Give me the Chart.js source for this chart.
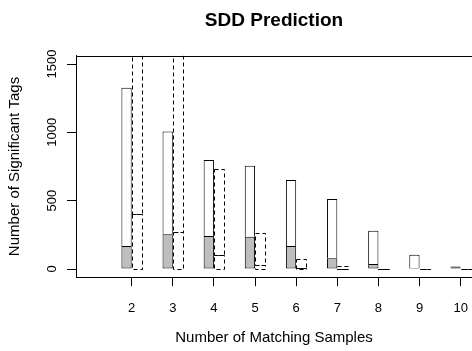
<!DOCTYPE html>
<html lang="en">
<head>
<meta charset="UTF-8">
<title>SDD Prediction</title>
<script src="https://cdn.jsdelivr.net/npm/chart.js@4.4.0/dist/chart.umd.min.js"></script>
<style>
  body { margin: 0; background: #fff; overflow: hidden; }
</style>
</head>
<body>
<canvas id="myChart" width="472" height="351"></canvas>
<script>
// number of matching samples
var categories = ['2', '3', '4', '5', '6', '7', '8', '9', '10'];
// solid bars: total height and grey part
var sigTags    = [1326, 1007, 798, 756, 651, 512, 280, 105, 18];
var sigShared  = [168, 254, 241, 236, 168, 78, 37, 8, 12];
// dashed bars: total height and lower part (2 and 3 run off the top)
var predTags   = [1900, 1700, 732, 266, 71, 24, 3, 2, 2];
var predShared = [402, 273, 102, 29, 8, 3, 1, 1, 1];
var yTicks = [0, 500, 1000, 1500];
var chartTitle = 'SDD Prediction';

var FONT = 'Liberation Sans, Arial, Helvetica, sans-serif';

function diff(a, b) { return a.map((v, i) => v - b[i]); }

// chart.js bars have no dashed border, so stroke the "pred" stack by hand
var dashedBars = {
  id: 'dashedBars',
  afterDatasetsDraw(chart) {
    const ctx = chart.ctx, area = chart.chartArea;
    ctx.save();
    ctx.beginPath();
    ctx.rect(area.left, area.top, area.right - area.left, area.bottom - area.top);
    ctx.clip();
    ctx.strokeStyle = '#000';
    ctx.lineWidth = 1;
    ctx.setLineDash([4, 3]);
    chart.data.datasets.forEach((ds, di) => {
      if (ds.stack !== 'pred') return;
      chart.getDatasetMeta(di).data.forEach(el => {
        const x0 = Math.round(el.x - el.width / 2) + 0.5;
        const x1 = Math.round(el.x + el.width / 2) + 0.5;
        const y0 = Math.round(el.y) + 0.5;
        const y1 = Math.round(el.base) + 0.5;
        ctx.strokeRect(x0, y0, x1 - x0, y1 - y0);
      });
    });
    ctx.restore();
  }
};

// box top line, title over the plot region, rotated y tick labels (R style)
var rDecor = {
  id: 'rDecor',
  afterDraw(chart) {
    const ctx = chart.ctx, area = chart.chartArea, ys = chart.scales.y;
    ctx.save();
    ctx.strokeStyle = '#000';
    ctx.lineWidth = 1;
    ctx.beginPath();
    ctx.moveTo(area.left, Math.round(area.top) + 0.5);
    ctx.lineTo(area.right, Math.round(area.top) + 0.5);
    ctx.stroke();

    ctx.fillStyle = '#000';
    ctx.textAlign = 'center';
    ctx.textBaseline = 'middle';
    ctx.font = 'bold 19px ' + FONT;
    ctx.fillText(chartTitle, (area.left + area.right) / 2, 21);

    ctx.font = '13px ' + FONT;
    ctx.textBaseline = 'alphabetic';
    yTicks.forEach(v => {
      ctx.save();
      ctx.translate(area.left - 20, ys.getPixelForValue(v));
      ctx.rotate(-Math.PI / 2);
      ctx.fillText(String(v), 0, 0);
      ctx.restore();
    });
    ctx.restore();
  }
};

var ctx = document.getElementById('myChart');
var myChart = new Chart(ctx.getContext('2d'), {
  type: 'bar',
  data: {
    labels: categories,
    datasets: [
      { stack: 'obs', data: sigShared, backgroundColor: '#bebebe', borderColor: '#000', borderWidth: 1, borderSkipped: false },
      { stack: 'obs', data: diff(sigTags, sigShared), backgroundColor: '#fff', borderColor: '#000', borderWidth: 1, borderSkipped: 'start' },
      { stack: 'pred', data: predShared, backgroundColor: 'rgba(0,0,0,0)', borderWidth: 0 },
      { stack: 'pred', data: diff(predTags, predShared), backgroundColor: 'rgba(0,0,0,0)', borderWidth: 0 }
    ]
  },
  options: {
    responsive: false,
    animation: false,
    categoryPercentage: 0.5,
    barPercentage: 1.0,
    layout: { padding: { top: 55.8, left: 0, right: 0, bottom: 0 } },
    plugins: {
      legend: { display: false },
      tooltip: { enabled: false },
      title: { display: false }
    },
    scales: {
      x: {
        type: 'linear',
        stacked: true,
        offset: false,
        min: 0.646,
        max: 10.275,
        afterBuildTicks: s => { s.ticks = categories.map(c => ({ value: Number(c) })); },
        afterFit: s => { s.height = 73.8; s.paddingLeft = 0; s.paddingRight = 0; },
        ticks: {
          color: '#000',
          padding: 14,
          maxRotation: 0,
          autoSkip: false,
          font: { family: FONT, size: 13 },
          callback: v => String(v)
        },
        grid: { drawOnChartArea: false, drawTicks: true, tickLength: 9, tickColor: '#000', offset: false },
        border: { display: true, color: '#000', width: 1 },
        title: {
          display: true,
          text: 'Number of Matching Samples',
          color: '#000',
          font: { family: FONT, size: 15 },
          padding: { top: 0, bottom: 4 }
        }
      },
      y: {
        stacked: true,
        min: -60,
        max: 1560,
        afterBuildTicks: s => { s.ticks = yTicks.map(v => ({ value: v })); },
        afterFit: s => { s.width = 76; s.paddingTop = 0; s.paddingBottom = 0; },
        ticks: { display: false },
        grid: { drawOnChartArea: false, drawTicks: true, tickLength: 9, tickColor: '#000' },
        border: { display: true, color: '#000', width: 1 },
        title: {
          display: true,
          text: 'Number of Significant Tags',
          color: '#000',
          font: { family: FONT, size: 15 },
          padding: { top: 6, bottom: 0 }
        }
      }
    }
  },
  plugins: [dashedBars, rDecor]
});
</script>
</body>
</html>
